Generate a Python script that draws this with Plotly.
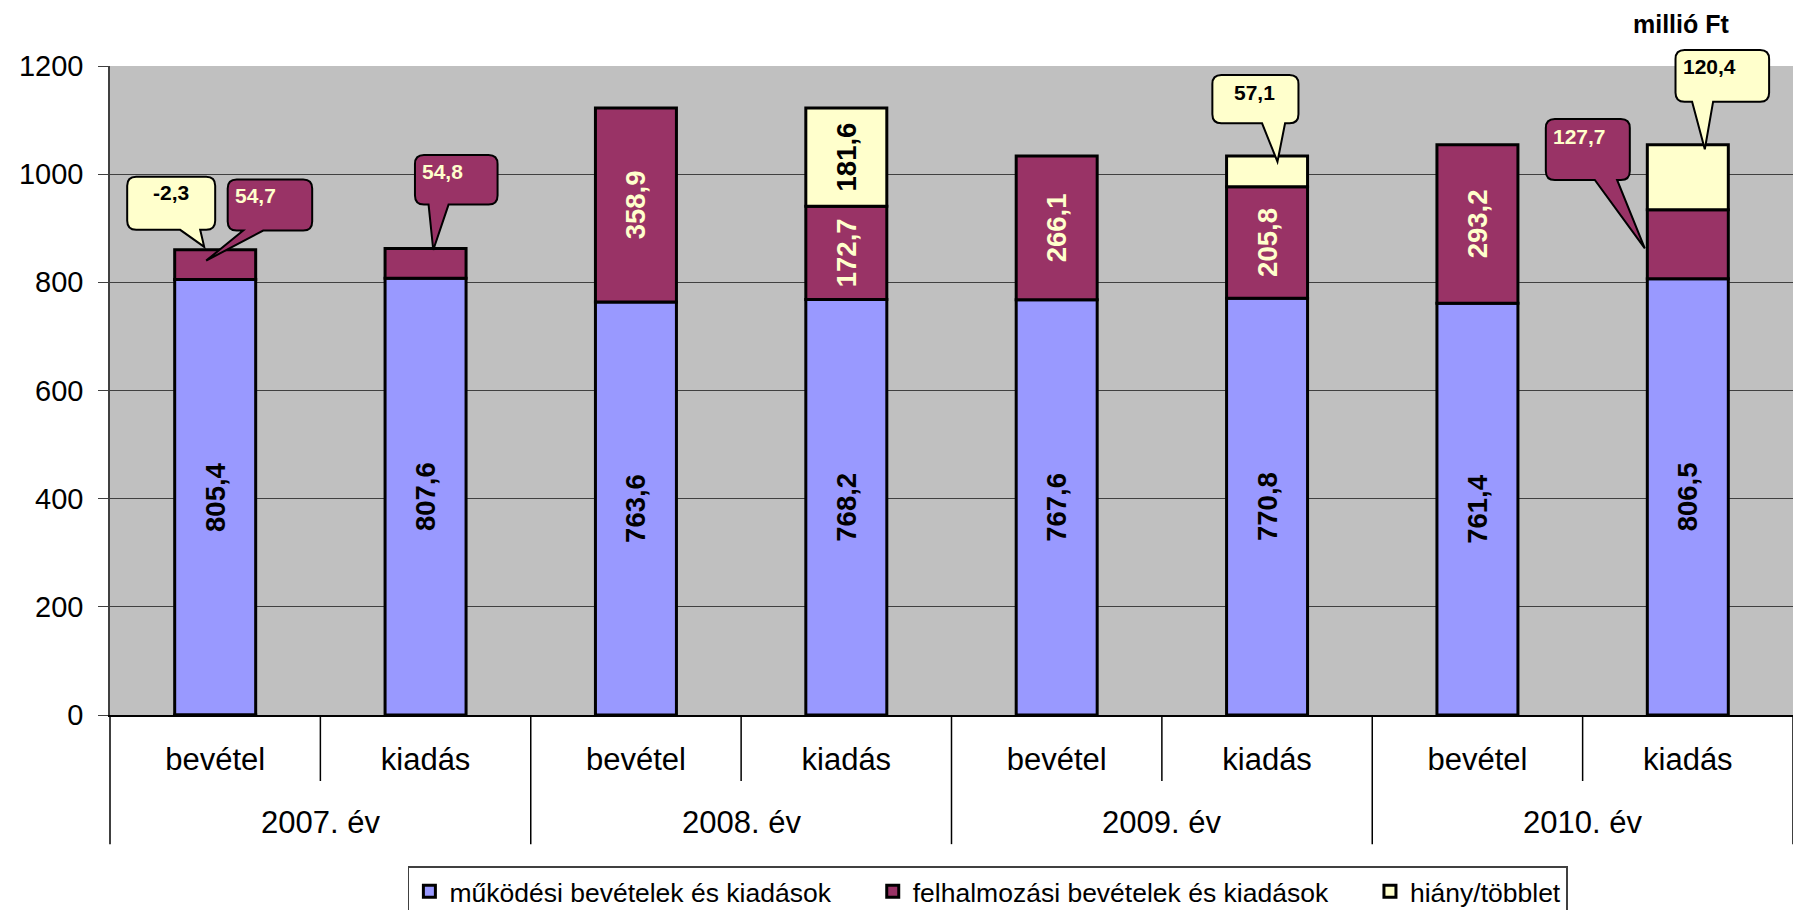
import plotly.graph_objects as go

# ---------------- data ----------------
years = ["2007. év", "2008. év", "2009. év", "2010. év"]
sides = ["bevétel", "kiadás"]
categories = [f"{y} {s}" for y in years for s in sides]
tick_labels = [s for y in years for s in sides]

series_names = ["működési bevételek és kiadások",
                "felhalmozási bevételek és kiadások",
                "hiány/többlet"]
mukodesi = [805.4, 807.6, 763.6, 768.2, 767.6, 770.8, 761.4, 806.5]
felhalmozasi = [54.7, 54.8, 358.9, 172.7, 266.1, 205.8, 293.2, 127.7]
hiany = [-2.3, None, None, 181.6, None, 57.1, None, 120.4]

unit_label = "millió Ft"

# ---------------- style ----------------
FONT = "Liberation Sans, Arial, sans-serif"
colors = ["#9999FF", "#993366", "#FFFFCC"]
text_colors = ["#000000", "#FFFFCC", "#000000"]
YMAX = 1200
xpos = list(range(len(categories)))
legend_pad = "\u00a0" * 5

def fmt(v):
    return f"{v:.1f}".replace(".", ",")

# callouts: (series index, category index, anchor kind, box, wedge base, tip, text offset)
# offsets in pixels relative to anchor (y positive = up)
callouts = [
    (2, 0, "top", (-88, 0, 20, 73), (-35, -15), (-11, 3), (-44, 57)),
    (1, 0, "mid", (12.5, 97, 34, 85), (28, 48), (-9, 4), (40, 69.5)),
    (1, 1, "top", (-10.6, 72, 44, 93.6), (3, 23), (7.7, -1.4), (17, 77)),
    (2, 5, "top", (-54.7, 31.4, 32.6, 80.9), (-5, 18), (10.4, -5.8), (-12.5, 63.4)),
    (1, 7, "mid", (-142, -58, 64.3, 125.3), (-93, -70.7), (-43, -4), (-108, 107.3)),
    (2, 7, "top", (-12.3, 81.3, 43, 94.7), (4.3, 25.3), (17, -4.6), (22, 78)),
]
callout_keys = {(c[0], c[1]) for c in callouts}

all_series = [mukodesi, felhalmozasi, hiany]

fig = go.Figure()
for si, (name, vals) in enumerate(zip(series_names, all_series)):
    texts = []
    for ci, v in enumerate(vals):
        if v is None or (si, ci) in callout_keys:
            texts.append("")
        else:
            texts.append(fmt(v))
    fig.add_trace(go.Bar(
        x=xpos, y=vals, name=name + (legend_pad if si < 2 else ""), width=0.385,
        marker=dict(color=colors[si], line=dict(color="black", width=3)),
        text=texts, textposition="inside", textangle=-90,
        insidetextanchor="middle",
        insidetextfont=dict(family=FONT, size=27.5, color=text_colors[si], weight="bold"),
        hoverinfo="skip",
    ))


def anchor_value(si, ci, kind):
    pos_total = sum((s[ci] or 0) for s in all_series if (s[ci] or 0) > 0)
    if kind == "top":
        return pos_total
    base = sum((all_series[k][ci] or 0) for k in range(si) if (all_series[k][ci] or 0) > 0)
    return base + all_series[si][ci] / 2


def bubble_path(box, wedge, tip, r=9):
    x0, x1, y0, y1 = box
    wx0, wx1 = wedge
    tx, ty = tip
    pts = [
        f"M{x0 + r},{y1}", f"L{x1 - r},{y1}", f"Q{x1},{y1} {x1},{y1 - r}",
        f"L{x1},{y0 + r}", f"Q{x1},{y0} {x1 - r},{y0}",
        f"L{wx1},{y0}", f"L{tx},{ty}", f"L{wx0},{y0}",
        f"L{x0 + r},{y0}", f"Q{x0},{y0} {x0},{y0 + r}",
        f"L{x0},{y1 - r}", f"Q{x0},{y1} {x0 + r},{y1}", "Z",
    ]
    return " ".join(pts)

n = len(categories)
for si, ci, kind, box, wedge, tip, toff in callouts:
    av = anchor_value(si, ci, kind)
    fig.add_shape(
        type="path", xref="paper", yref="paper",
        xsizemode="pixel", ysizemode="pixel",
        xanchor=(ci + 0.5) / n, yanchor=av / YMAX,
        path=bubble_path(box, wedge, tip),
        fillcolor=colors[si], line=dict(color="black", width=2), layer="above",
    )
    fig.add_annotation(
        x=ci, y=av, xref="x", yref="y", xshift=toff[0], yshift=toff[1],
        text=fmt(all_series[si][ci]), showarrow=False,
        font=dict(family=FONT, size=21, color=text_colors[si], weight="bold"),
    )

# category axis divider lines
inner_h = -0.1017
outer_h = -0.199
for k in range(n + 1):
    xp = k / n
    h = outer_h if k % 2 == 0 else inner_h
    fig.add_shape(type="line", xref="paper", yref="paper", x0=xp, x1=xp, y0=0, y1=h,
                  line=dict(color="black", width=1.5), layer="above")

for yi, yname in enumerate(years):
    fig.add_annotation(x=(2 * yi + 1) / n, y=-0.166, xref="paper", yref="paper",
                       text=yname, showarrow=False, xanchor="center", yanchor="middle",
                       font=dict(family=FONT, size=31, color="black"))

fig.add_annotation(x=0.934, y=1.0647, xref="paper", yref="paper", text=unit_label,
                   showarrow=False, xanchor="center", yanchor="middle",
                   font=dict(family=FONT, size=25, color="black", weight="bold"))

fig.update_layout(
    width=1793, height=910,
    margin=dict(l=110, r=0, t=66, b=195, autoexpand=False),
    paper_bgcolor="white", plot_bgcolor="#C0C0C0",
    barmode="relative",
    showlegend=True,
    legend=dict(orientation="h", x=0.177, y=-0.2327, xanchor="left", yanchor="top",
                bordercolor="#404040", borderwidth=1.5, bgcolor="white",
                font=dict(family=FONT, size=26.5, color="black"),
                traceorder="normal", itemwidth=30),
    xaxis=dict(range=[-0.5, n - 0.5], tickvals=xpos, ticktext=tick_labels,
               showgrid=False, zeroline=False, showline=True, linecolor="black",
               linewidth=1.5, ticks="", ticklabelstandoff=16,
               tickfont=dict(family=FONT, size=31, color="black"), fixedrange=True),
    yaxis=dict(range=[0, YMAX], dtick=200, showgrid=True, gridcolor="#404040",
               gridwidth=1, zeroline=False, showline=True, linecolor="#404040",
               linewidth=1.5, ticks="outside", ticklen=10, tickcolor="#404040",
               ticklabelstandoff=9,
               tickfont=dict(family=FONT, size=29, color="black"), fixedrange=True),
    font=dict(family=FONT),
)

fig.write_html("out.html")
